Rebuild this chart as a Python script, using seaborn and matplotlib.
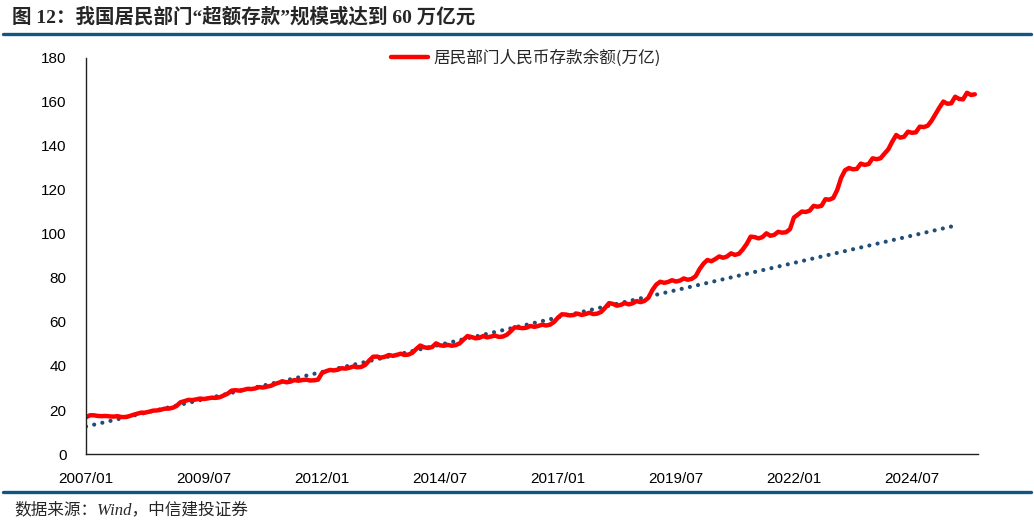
import numpy as np
import pandas as pd
import matplotlib
matplotlib.use("Agg")
import matplotlib.pyplot as plt
import seaborn as sns

# ---------------- data (万亿元), monthly from 2007/01 ----------------
start_year = 2007
dep_2007 = [16.7, 17.6, 17.6, 17.3, 17.2, 17.3, 17.1, 17.0, 17.2, 16.8, 16.8, 17.2]
dep_2008 = [17.8, 18.3, 18.8, 18.8, 19.2, 19.7, 19.8, 20.1, 20.6, 20.6, 21.0, 21.8]
dep_2009 = [23.5, 24.0, 24.6, 24.5, 24.8, 25.2, 25.0, 25.3, 25.6, 25.5, 25.8, 26.6]
dep_2010 = [27.4, 28.8, 29.0, 28.8, 29.1, 29.6, 29.5, 29.8, 30.4, 30.2, 30.6, 31.0]
dep_2011 = [31.8, 32.4, 33.0, 32.6, 32.9, 33.6, 33.3, 33.6, 33.8, 33.4, 33.5, 33.8]
dep_2012 = [36.8, 37.6, 38.2, 38.0, 38.3, 39.0, 38.8, 39.2, 39.8, 39.4, 39.6, 40.5]
dep_2013 = [42.5, 44.2, 44.3, 43.8, 44.2, 45.0, 44.6, 45.0, 45.6, 45.0, 45.2, 46.0]
dep_2014 = [47.8, 49.3, 48.5, 48.2, 48.6, 50.3, 49.4, 49.2, 49.6, 49.2, 49.5, 50.3]
dep_2015 = [52.0, 53.6, 53.2, 52.6, 52.8, 53.6, 53.0, 53.4, 53.8, 53.2, 53.4, 54.2]
dep_2016 = [55.8, 57.6, 57.4, 57.2, 57.4, 58.2, 57.8, 58.2, 58.8, 58.4, 58.8, 60.0]
dep_2017 = [62.0, 63.5, 63.4, 63.0, 63.2, 63.8, 63.2, 63.6, 64.2, 63.6, 63.8, 64.6]
dep_2018 = [66.5, 68.6, 68.2, 67.4, 67.8, 68.6, 68.0, 68.5, 69.5, 69.0, 69.6, 71.0]
dep_2019 = [74.5, 77.0, 78.3, 77.8, 78.2, 79.0, 78.4, 78.8, 79.8, 79.2, 79.6, 80.8]
dep_2020 = [84.0, 86.5, 88.2, 87.6, 88.6, 89.8, 89.2, 89.8, 91.2, 90.5, 91.0, 93.0]
dep_2021 = [95.5, 98.8, 98.6, 98.0, 98.6, 100.3, 99.2, 99.6, 101.0, 100.6, 100.8, 102.2]
dep_2022 = [107.5, 108.8, 110.2, 110.0, 110.6, 112.8, 112.4, 112.8, 115.8, 115.6, 116.4, 120.0]
dep_2023 = [125.5, 129.0, 130.0, 129.4, 129.6, 132.0, 131.4, 131.8, 134.4, 134.0, 134.4, 136.5]
dep_2024 = [138.5, 142.0, 145.0, 143.8, 144.2, 146.5, 146.0, 146.2, 148.8, 148.6, 149.2, 151.5]
dep_2025 = [154.5, 157.5, 160.2, 159.2, 159.4, 162.4, 161.4, 161.2, 164.2, 163.2, 163.5]

deposits = (dep_2007 + dep_2008 + dep_2009 + dep_2010 + dep_2011 + dep_2012 +
            dep_2013 + dep_2014 + dep_2015 + dep_2016 + dep_2017 + dep_2018 +
            dep_2019 + dep_2020 + dep_2021 + dep_2022 + dep_2023 + dep_2024 + dep_2025)

# trend line end points (month index, value)
trend_months = [0, 221]
trend_values = [12.5, 103.8]

x_tick_labels = ["2007/01", "2009/07", "2012/01", "2014/07",
                 "2017/01", "2019/07", "2022/01", "2024/07"]
y_ticks = [0, 20, 40, 60, 80, 100, 120, 140, 160, 180]

series_name = "居民部门人民币存款余额(万亿)"
title_text = "图 12：我国居民部门“超额存款”规模或达到 60 万亿元"
source_text = "数据来源：Wind，中信建投证券"

# ---------------- plotting ----------------
sns.set_style("white")
plt.rcParams["font.family"] = ["Liberation Sans", "Noto Sans CJK SC", "DejaVu Sans"]

fig = plt.figure(figsize=(10.34, 5.25), dpi=100)
ax = fig.add_axes([86 / 1034, 1 - 454 / 525, (978 - 86) / 1034, (454 - 58) / 525])

df = pd.DataFrame({"month": np.arange(len(deposits)), "value": deposits})
trend_df = pd.DataFrame({"month": trend_months, "value": trend_values})

sns.lineplot(data=trend_df, x="month", y="value", ax=ax, color="#1F4E79",
             linewidth=3.0, dashes=False, legend=False,
             linestyle=(0, (0.01, 2.0)), dash_capstyle="round")
sns.lineplot(data=df, x="month", y="value", ax=ax, color="#FF0000",
             linewidth=3.2, label=series_name, solid_capstyle="round")

tick_pos = [(int(s[:4]) - start_year) * 12 + int(s[5:]) - 1 for s in x_tick_labels]
ax.set_xticks(tick_pos)
ax.set_xticklabels(x_tick_labels)
ax.set_yticks(y_ticks)
ax.set_xlim(0, 226.8)
ax.set_ylim(0, 180)
ax.set_xlabel("")
ax.set_ylabel("")

for side in ["top", "right"]:
    ax.spines[side].set_visible(False)
for side in ["left", "bottom"]:
    ax.spines[side].set_color("#222222")
    ax.spines[side].set_linewidth(1.0)
ax.tick_params(axis="both", which="major", direction="out", length=4, width=1.0,
               color="#222222", labelsize=11, labelcolor="#000000", pad=6)
ax.tick_params(axis="y", pad=10)
ax.tick_params(axis="x", pad=9)

leg = ax.legend(loc="center", bbox_to_anchor=(0.4935, 1.0), frameon=False,
                handlelength=2.2, handletextpad=0.35,
                prop={"family": ["Noto Sans CJK SC", "DejaVu Sans"], "size": 12})

# title and rules
fig.text(12 / 1034, 1 - 17 / 525, title_text, ha="left", va="center",
         fontsize=14, fontweight="bold",
         family=["Liberation Serif", "Noto Sans CJK SC", "DejaVu Sans"])
fig.add_artist(plt.Line2D([3 / 1034, 1031 / 1034], [1 - 34 / 525, 1 - 34 / 525],
                          color="#11567F", linewidth=2.4, transform=fig.transFigure))
fig.add_artist(plt.Line2D([3 / 1034, 1031 / 1034], [1 - 492 / 525, 1 - 492 / 525],
                          color="#11567F", linewidth=2.4, transform=fig.transFigure))
fig.text(14 / 1034, 1 - 510 / 525, source_text, ha="left", va="center",
         fontsize=12, style="italic",
         family=["Liberation Serif", "Noto Sans CJK SC", "DejaVu Sans"])

fig.savefig("out.png", dpi=100)
